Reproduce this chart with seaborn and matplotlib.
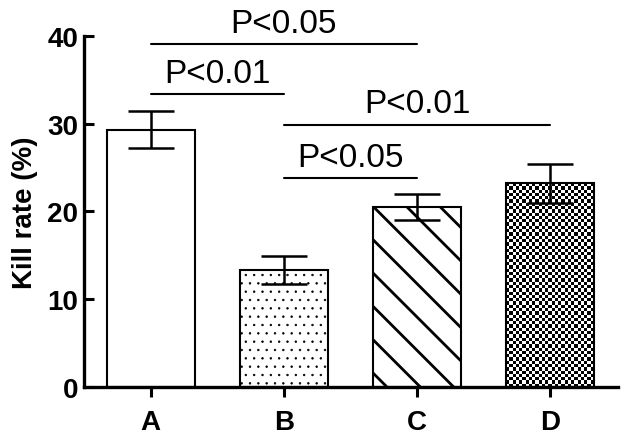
import numpy as np
import pandas as pd
import matplotlib
matplotlib.use('Agg')
import seaborn as sns
import matplotlib.pyplot as plt

# Group means and SD
groups = ['A', 'B', 'C', 'D']
kill_rate = [29.3, 13.3, 20.5, 23.2]
kill_sd = [2.1, 1.6, 1.5, 2.2]
hatches = ['', '..', '\\', None]   # None -> checkerboard fill

# Significance brackets: (left group, right group), label, height
sig_pairs = [(0, 2), (0, 1), (1, 3), (1, 2)]
sig_labels = ['P<0.05', 'P<0.01', 'P<0.01', 'P<0.05']
sig_heights = [39.1, 33.4, 29.9, 23.8]

sns.set_style('ticks')
plt.rcParams['font.family'] = ['Liberation Sans', 'DejaVu Sans']
plt.rcParams['hatch.linewidth'] = 2.0
for key in ['text.color', 'axes.labelcolor', 'xtick.color', 'ytick.color', 'axes.edgecolor']:
    plt.rcParams[key] = 'black'

df = pd.DataFrame({'group': groups, 'rate': kill_rate})

fig = plt.figure(figsize=(6.3, 4.39), dpi=100)
ax = fig.add_axes([0.1333, 0.116, 0.848, 0.80])

sns.barplot(data=df, x='group', y='rate', color='white', edgecolor='black',
            linewidth=1.5, width=0.66, ax=ax, saturation=1)

ax.set_ylim(0, 40)
ax.set_xlim(-0.5, 3.51)

# Hatch patterns per bar
for patch, h in zip(ax.patches, hatches):
    patch.set_facecolor('white')
    if h is None:
        # checkerboard texture clipped to the bar, ~3.3 px cells
        x0, y0 = patch.get_x(), patch.get_y()
        w, hgt = patch.get_width(), patch.get_height()
        (px0, py0), (px1, py1) = ax.transData.transform([(x0, y0), (x0 + w, y0 + hgt)])
        cols = int(round(abs(px1 - px0) / 3.3))
        rows = int(round(abs(py1 - py0) / 3.3))
        checker = np.add.outer(np.arange(rows), np.arange(cols)) % 2
        im = ax.imshow(checker, cmap='gray', extent=(x0, x0 + w, y0, y0 + hgt),
                       aspect='auto', interpolation='nearest', zorder=patch.get_zorder() - 0.1)
        im.set_clip_path(patch)
        patch.set_facecolor('none')
        continue
    patch.set_hatch(h)
    if hasattr(patch, 'set_hatch_linewidth'):
        patch.set_hatch_linewidth(0.5 if h == '..' else 2.0)

# Error bars (mean +/- SD)
ax.errorbar(range(len(groups)), kill_rate, yerr=kill_sd, fmt='none',
            ecolor='black', elinewidth=1.8, capsize=16.5, capthick=1.8, zorder=5)

# Significance lines and labels
for (i, j), lab, yv in zip(sig_pairs, sig_labels, sig_heights):
    ax.plot([i, j], [yv, yv], color='black', lw=1.5, clip_on=False)
    ax.text((i + j) / 2, yv + 0.6, lab, ha='center', va='bottom',
            fontsize=24, clip_on=False)

ax.set_ylim(0, 40)
ax.set_xlim(-0.5, 3.51)
ax.set_yticks([0, 10, 20, 30, 40])
ax.set_xlabel('')
ax.set_ylabel('Kill rate (%)', fontsize=20, fontweight='bold', labelpad=7)

for lab in ax.get_xticklabels() + ax.get_yticklabels():
    lab.set_fontweight('bold')
ax.tick_params(axis='y', direction='in', length=7, width=2.2, labelsize=20, pad=4)
ax.tick_params(axis='x', direction='out', length=7, width=2.2, labelsize=20, pad=9)

sns.despine(ax=ax)
for side in ['left', 'bottom']:
    ax.spines[side].set_linewidth(2.4)

fig.savefig('out.png', dpi=100)
